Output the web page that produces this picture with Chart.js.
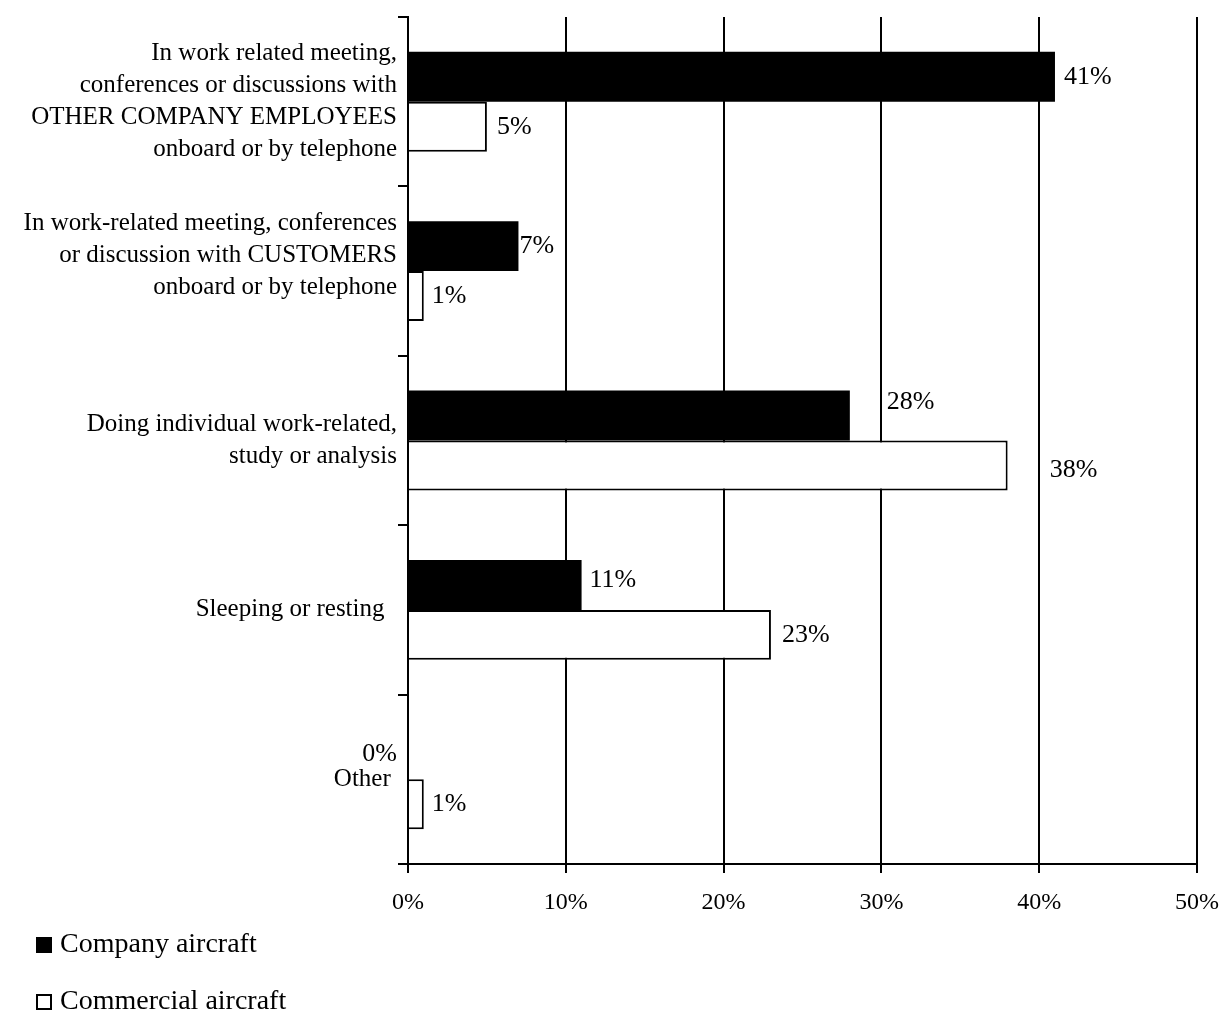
<!DOCTYPE html>
<html>
<head>
<meta charset="utf-8">
<script src="https://cdn.jsdelivr.net/npm/chart.js@4/dist/chart.umd.min.js"></script>
<style>
  html, body { margin: 0; padding: 0; background: #fff; }
  #wrap { width: 1225px; height: 1012px; }
</style>
</head>
<body>
<div id="wrap"><canvas id="myChart" width="1225" height="1012"></canvas></div>
<script>
// category labels (line breaks as arrays, trailing spaces nudge right edge)
var categories = [
    ["In work related meeting,", "conferences or discussions with", "OTHER COMPANY EMPLOYEES", "onboard or by telephone"],
    ["In work-related meeting, conferences", "or discussion with CUSTOMERS", "onboard or by telephone", ""],
    ["Doing individual work-related,", "study or analysis"],
    "Sleeping or resting  ",
    "Other "
];

var companyValues = [41, 7, 28, 11, 0];
var commercialValues = [5, 1, 38, 23, 1];

var xTicks = [0, 10, 20, 30, 40, 50];

var seriesNames = ["Company aircraft", "Commercial aircraft"];

// small nudges for value labels: [dx, dy] from the bar end
var companyNudge = [[9, 0], [1, 0], [37, -13], [8, -5], [-11, 0]];
var commercialNudge = [[10, 0], [8, 0], [42, 5], [11, 0], [8, 0]];

var serif = "'Liberation Serif', 'Times New Roman', serif";

var valueLabels = {
    id: 'valueLabels',
    afterDatasetsDraw: function(chart) {
        var ctx = chart.ctx;
        var nudges = [companyNudge, commercialNudge];
        ctx.save();
        ctx.font = "26px " + serif;
        ctx.fillStyle = "#000";
        ctx.textBaseline = "middle";
        chart.data.datasets.forEach(function(ds, i) {
            var meta = chart.getDatasetMeta(i);
            meta.data.forEach(function(bar, j) {
                var n = nudges[i][j];
                ctx.textAlign = n[0] < 0 ? "right" : "left";
                ctx.fillText(ds.data[j] + "%", bar.x + n[0], bar.y + n[1]);
            });
        });
        ctx.restore();
    }
};

// legend stacked at bottom left
var stackedLegend = {
    id: 'stackedLegend',
    afterDraw: function(chart) {
        var ctx = chart.ctx;
        var baselines = [952, 1009];
        ctx.save();
        ctx.font = "28px " + serif;
        ctx.textBaseline = "alphabetic";
        ctx.textAlign = "left";
        chart.data.datasets.forEach(function(ds, i) {
            var b = baselines[i];
            ctx.fillStyle = ds.backgroundColor;
            ctx.fillRect(36, b - 15, 16, 16);
            ctx.strokeStyle = "#000";
            ctx.lineWidth = 2;
            ctx.strokeRect(37, b - 14, 14, 14);
            ctx.fillStyle = "#000";
            ctx.fillText(ds.label, 60, b);
        });
        ctx.restore();
    }
};

var ctx = document.getElementById('myChart').getContext('2d');
var myChart = new Chart(ctx, {
    type: 'bar',
    data: {
        labels: categories,
        datasets: [{
            label: seriesNames[0],
            data: companyValues,
            backgroundColor: '#000',
            borderColor: '#000',
            borderWidth: 0
        }, {
            label: seriesNames[1],
            data: commercialValues,
            backgroundColor: '#fff',
            borderColor: '#000',
            borderWidth: 2
        }]
    },
    options: {
        indexAxis: 'y',
        responsive: false,
        animation: false,
        categoryPercentage: 0.59,
        barPercentage: 1.0,
        layout: { padding: { top: 14, right: 28, bottom: 0, left: 0 } },
        plugins: {
            legend: { display: false },
            tooltip: { enabled: false }
        },
        scales: {
            x: {
                min: 0,
                max: 50,
                afterBuildTicks: function(scale) {
                    scale.ticks = xTicks.map(function(v) { return { value: v }; });
                },
                afterFit: function(scale) {
                    scale.height = 148;
                    scale.paddingLeft = 0;
                    scale.paddingRight = 0;
                },
                grid: {
                    color: '#000',
                    lineWidth: 2,
                    tickLength: 9,
                    drawOnChartArea: true
                },
                border: { display: true, color: '#000', width: 2 },
                ticks: {
                    color: '#000',
                    padding: 15,
                    font: { family: serif, size: 24 },
                    callback: function(v) { return v + '%'; }
                }
            },
            y: {
                afterFit: function(scale) { scale.width = 408; },
                grid: {
                    color: '#000',
                    lineWidth: 2,
                    tickLength: 10,
                    drawOnChartArea: false,
                    offset: true
                },
                border: { display: true, color: '#000', width: 2 },
                ticks: {
                    color: '#000',
                    padding: 1,
                    font: { family: serif, size: 25, lineHeight: 1.28 }
                }
            }
        }
    },
    plugins: [valueLabels, stackedLegend]
});
</script>
</body>
</html>
